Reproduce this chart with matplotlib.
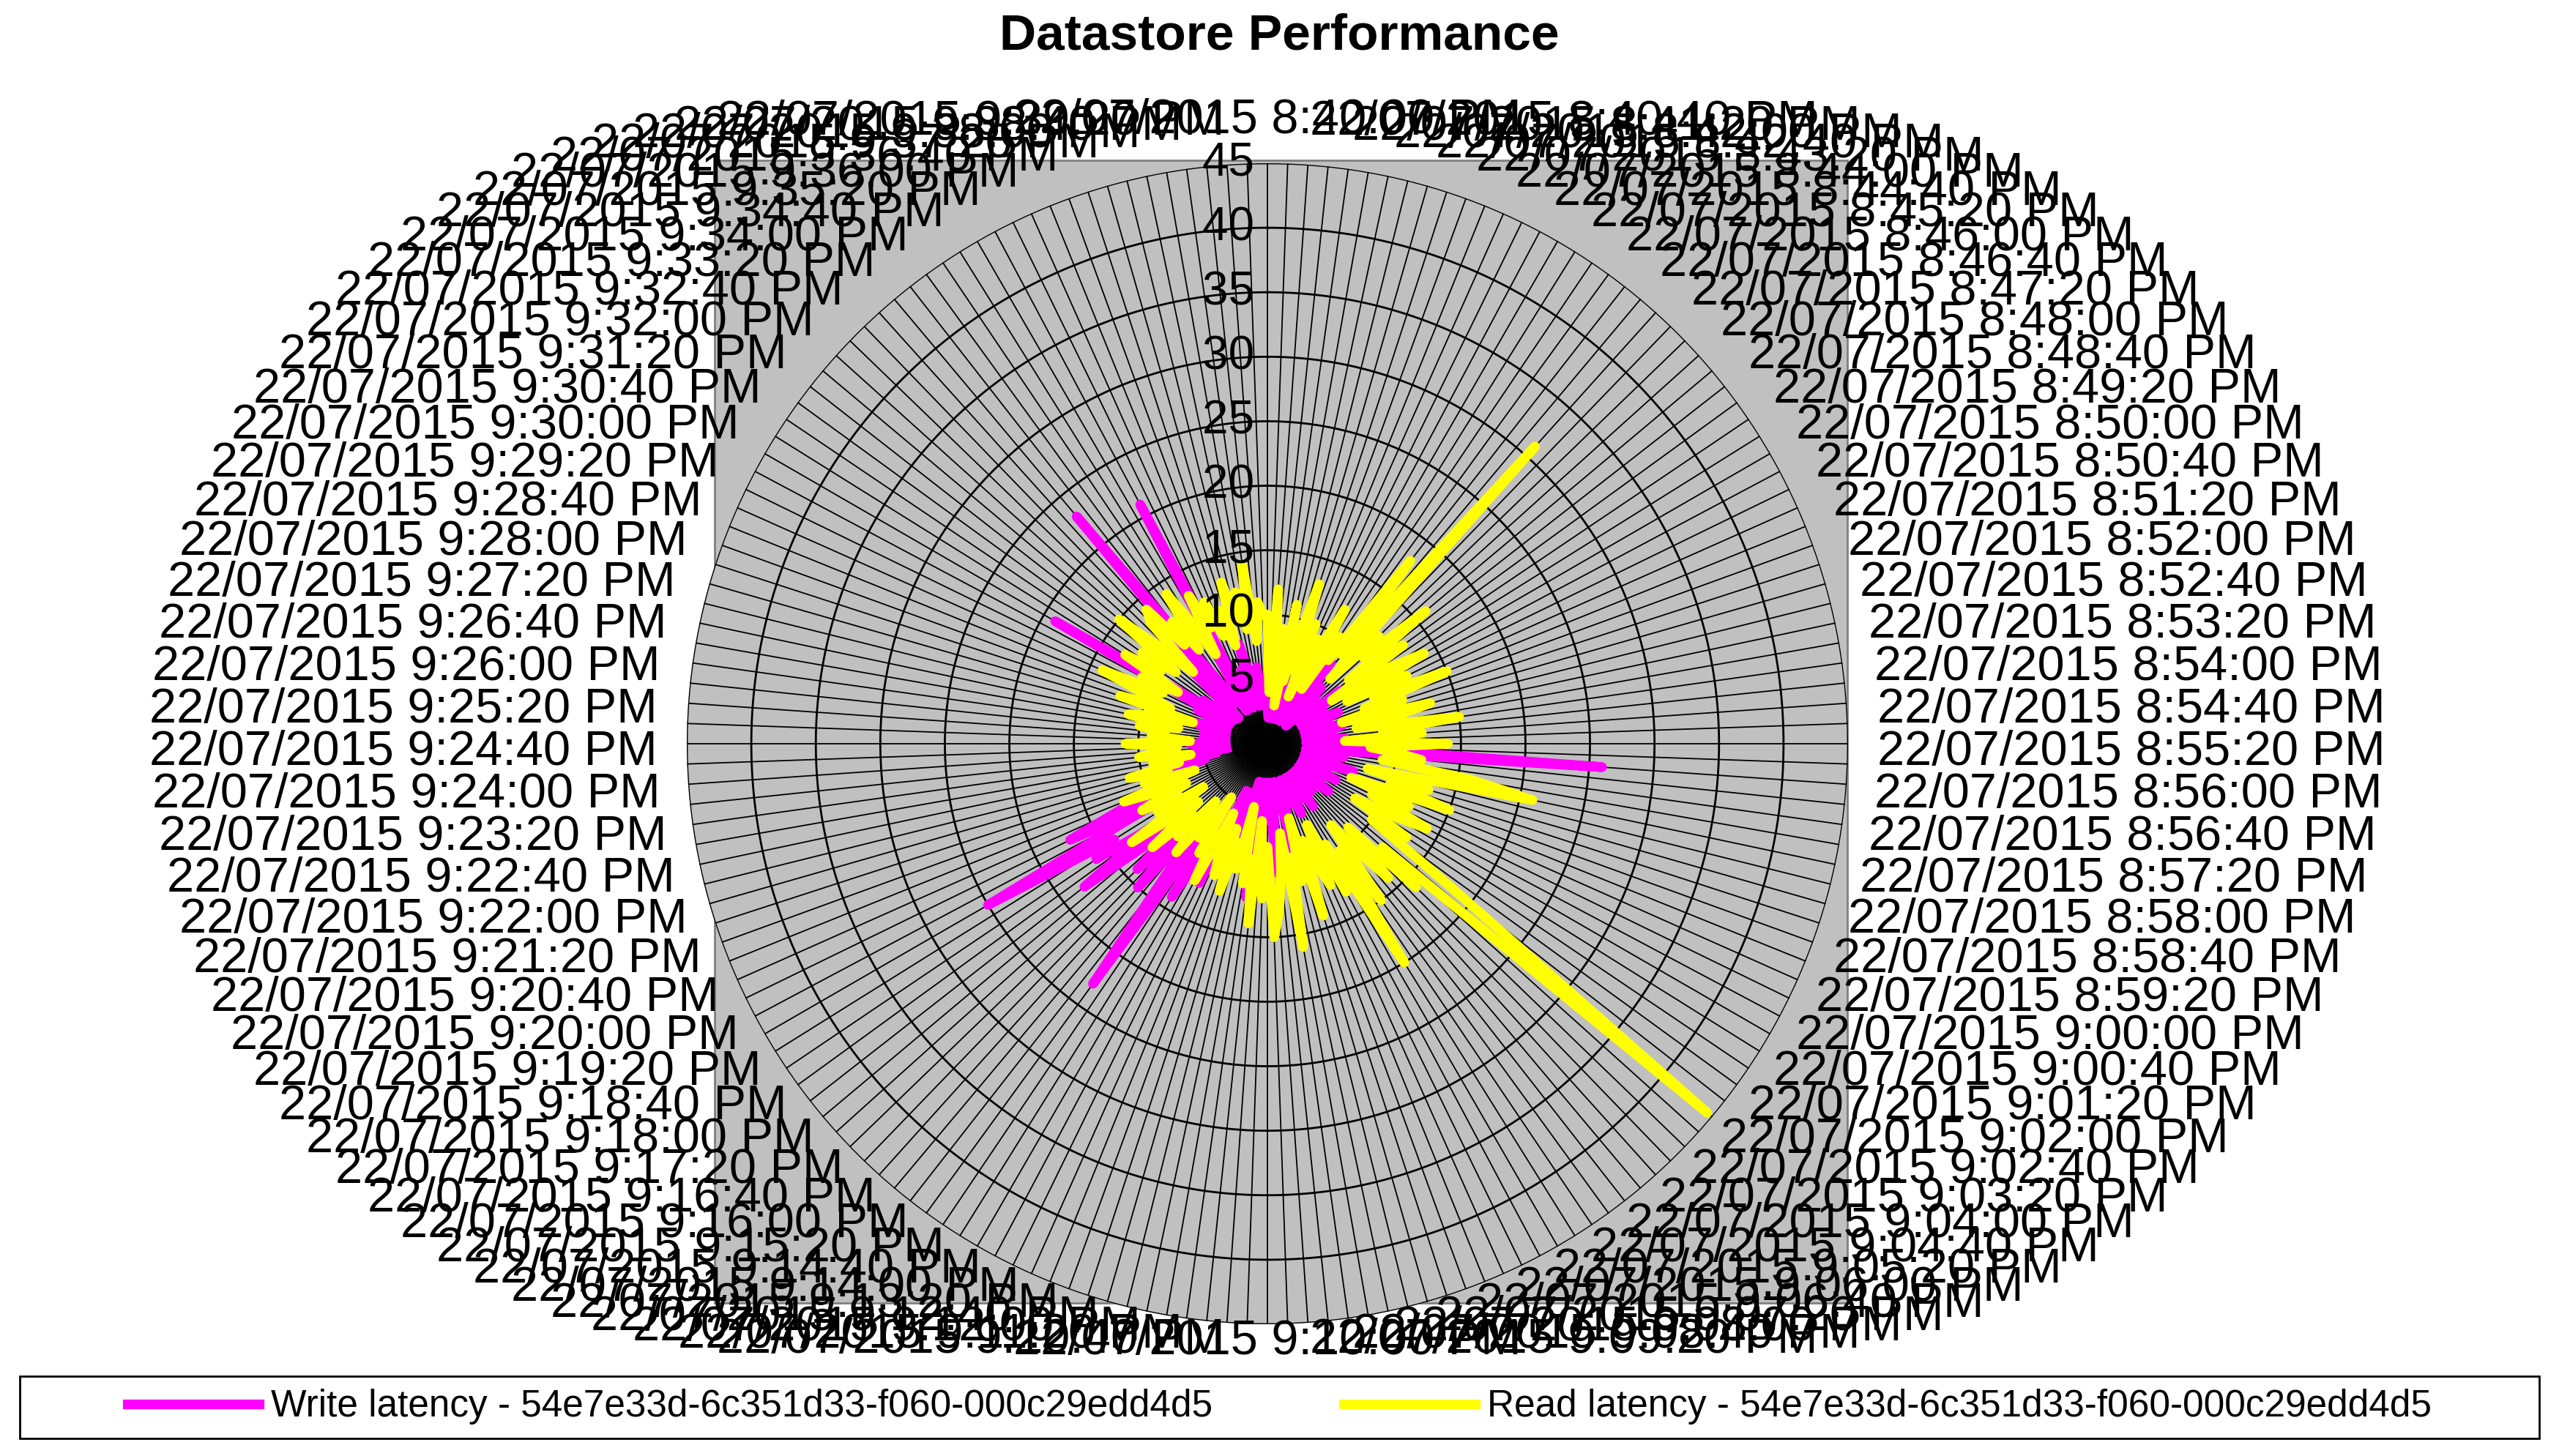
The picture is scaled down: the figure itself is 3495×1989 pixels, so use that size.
import numpy as np
import matplotlib
matplotlib.use("Agg")
import matplotlib.pyplot as plt
from matplotlib.patches import Rectangle
from matplotlib.lines import Line2D
from datetime import datetime, timedelta

plt.rcParams["font.family"] = ["Liberation Sans", "DejaVu Sans"]

# ── data (one sample every 20 s from 8:40:00 PM) ─────────────────────────────
start = datetime(2015, 7, 22, 20, 40, 0)
n_points = 180
times = [start + timedelta(seconds=20 * i) for i in range(n_points)]
labels = [f"22/07/2015 {t.hour - 12}:{t.minute:02d}:{t.second:02d} PM" for t in times]

read_latency = [
    10, 4, 12, 6, 9, 3, 11, 5, 8, 13,
    6, 10, 4, 9, 7, 12, 5, 10, 8, 18,
    9, 31, 7, 12, 10, 16, 8, 13, 6, 11,
    14, 7, 12, 9, 15, 8, 11, 6, 13, 10,
    7, 15, 9, 12, 6, 14, 8, 10, 12, 9,
    16, 21, 8, 13, 10, 15, 7, 12, 9, 14,
    11, 8, 13, 10, 18, 44.5, 12, 16, 9, 14,
    11, 8, 15, 10, 20, 9, 13, 7, 12, 10,
    8, 14, 6, 11, 9, 16, 7, 10, 13, 15,
    8, 12, 6, 14, 9, 11, 5, 10, 8, 12,
    7, 11, 9, 6, 12, 8, 10, 5, 9, 7,
    11, 6, 10, 8, 12, 7, 9, 13, 6, 10,
    8, 11, 7, 9, 12, 6, 10, 8, 11, 7,
    9, 6, 10, 8, 7, 11, 6, 9, 8, 10,
    7, 11, 9, 6, 12, 8, 10, 14, 9, 11,
    8, 13, 10, 12, 9, 15, 11, 8, 13, 14,
    10, 12, 9, 14, 11, 8, 13, 10, 12, 9,
    11, 8, 13, 10, 12, 9, 14, 8, 11, 10,
]
write_latency = [
    3, 2, 4, 3, 5, 2, 6, 3, 4, 2,
    5, 3, 4, 6, 3, 2, 5, 4, 3, 8,
    4, 3, 6, 2, 5, 4, 3, 7, 4, 3,
    5, 4, 3, 6, 4, 5, 3, 4, 6, 5,
    3, 5, 4, 6, 3, 12, 4, 26, 5, 3,
    6, 4, 5, 3, 7, 4, 5, 3, 4, 6,
    3, 5, 4, 3, 6, 4, 5, 3, 4, 5,
    3, 4, 6, 3, 5, 4, 3, 6, 4, 5,
    3, 4, 5, 9, 4, 3, 5, 4, 10, 3,
    4, 6, 3, 5, 12, 4, 3, 6, 8, 4,
    5, 10, 4, 12, 6, 9, 14, 5, 23, 12,
    8, 15, 10, 14, 9, 12, 18, 11, 16, 14,
    25, 10, 17, 12, 8, 10, 6, 9, 5, 7,
    4, 6, 3, 5, 4, 6, 3, 5, 4, 3,
    5, 4, 3, 6, 4, 3, 5, 4, 6, 3,
    19, 4, 6, 3, 5, 4, 3, 8, 5, 4,
    23, 6, 4, 5, 3, 6, 21, 4, 5, 3,
    6, 4, 8, 5, 3, 4, 6, 3, 5, 4,
]
r_ticks = [0, 5, 10, 15, 20, 25, 30, 35, 40, 45]
legend_labels = ["Write latency - 54e7e33d-6c351d33-f060-000c29edd4d5",
                 "Read latency - 54e7e33d-6c351d33-f060-000c29edd4d5"]

W, H = 3495, 1989
fig = plt.figure(figsize=(W / 100, H / 100), dpi=100)
fig.patch.set_facecolor("white")

# grey plot area square (own background axes)
bg = fig.add_axes([976 / W, 1 - 1780 / H, (2523 - 976) / W, (1780 - 219) / H])
bg.set_facecolor("#c0c0c0")
bg.set_xticks([])
bg.set_yticks([])
for sp in bg.spines.values():
    sp.set_color("#808080")
    sp.set_linewidth(2)

cx, cy, R = 1731, 1016, 793
ax = fig.add_axes([(cx - R) / W, (H - cy - R) / H, 2 * R / W, 2 * R / H], projection="polar")
ax.set_theta_zero_location("N")
ax.set_theta_direction(-1)
ax.set_facecolor("#c0c0c0")
ax.spines["polar"].set_visible(False)
ax.set_ylim(0, 45)
ax.set_xticks([])
ax.set_yticks([])
ax.grid(False)

theta = np.arange(n_points) * 2 * np.pi / n_points

# spokes and rings
for t in theta:
    ax.plot([t, t], [0, 45], color="black", lw=1.3, zorder=1)
ring = np.linspace(0, 2 * np.pi, 400)
for r in r_ticks[1:]:
    ax.plot(ring, [r] * len(ring), color="black", lw=2, zorder=1)

# series
tc = np.append(theta, theta[0])
ax.plot(tc, write_latency + write_latency[:1], color="#ff00ff", lw=9.5,
        solid_capstyle="round", solid_joinstyle="round", zorder=3)
ax.plot(tc, read_latency + read_latency[:1], color="#ffff00", lw=9.5,
        solid_capstyle="round", solid_joinstyle="round", zorder=4)

# radial labels
for r in r_ticks:
    ax.text(0, r, f"{r} ", ha="right", va="center", fontsize=46, zorder=5)

# angular labels (every other spoke)
for i in range(0, n_points, 2):
    t = theta[i]
    s = np.sin(t)
    ha = "left" if s > 0.05 else ("right" if s < -0.05 else "center")
    ax.text(t, 47.3, labels[i], ha=ha, va="baseline", fontsize=48, clip_on=False, zorder=6)

fig.text(0.5, 1 - 50 / H, "Datastore Performance", ha="center", va="center",
         fontsize=50, fontweight="bold")

handles = [Line2D([], [], color="#ff00ff", lw=9.5),
           Line2D([], [], color="#ffff00", lw=9.5)]
fig.legend(handles, legend_labels, ncol=2, loc="center",
           bbox_to_anchor=(0.5, 1 - 1922 / H), fontsize=37,
           frameon=False, handlelength=3.5, handletextpad=0.3, columnspacing=3.5)
fig.patches.append(Rectangle((27 / W, 1 - 1965 / H), (3468 - 27) / W, 85 / H,
                             transform=fig.transFigure, facecolor="none",
                             edgecolor="black", linewidth=2))

fig.savefig("out.png", dpi=100, facecolor="white")
